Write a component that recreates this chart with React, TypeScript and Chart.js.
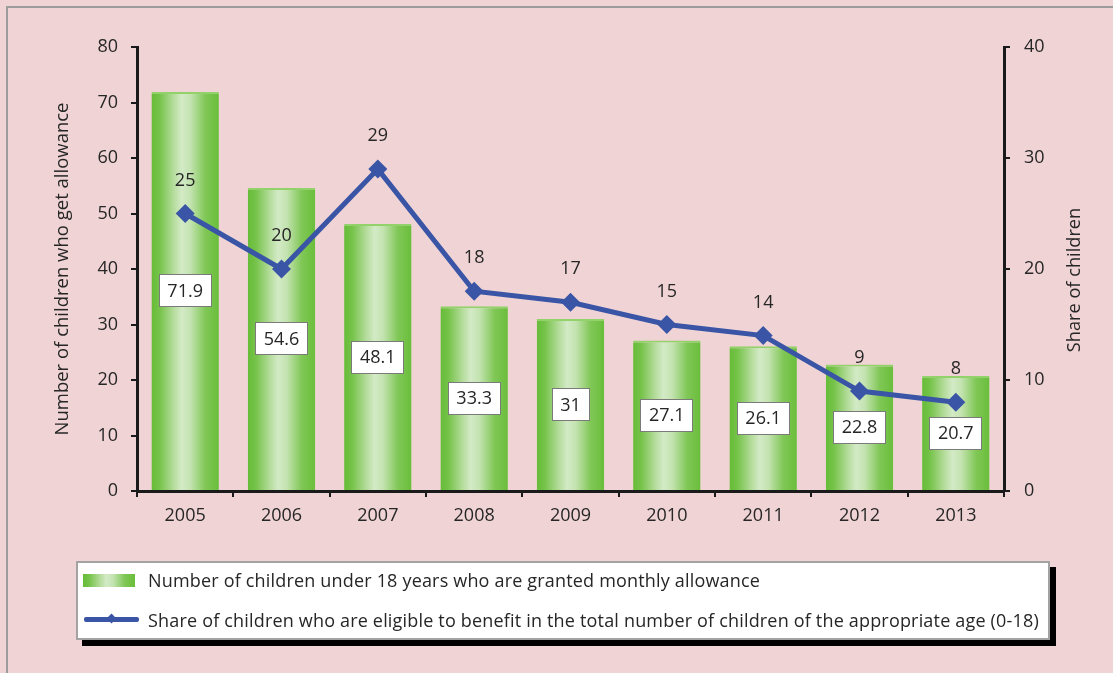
import React, { useEffect, useRef } from "react";
import { Chart, registerables } from "chart.js";

Chart.register(...registerables);

const categories = ["2005", "2006", "2007", "2008", "2009", "2010", "2011", "2012", "2013"];
const childrenCount = [71.9, 54.6, 48.1, 33.3, 31, 27.1, 26.1, 22.8, 20.7];
const shareOfChildren = [25, 20, 29, 18, 17, 15, 14, 9, 8];
const leftTicksMax = 80;
const rightTicksMax = 40;
const barLabel = "Number of children under 18 years who are granted monthly allowance";
const lineLabel = "Share of children who are eligible to benefit in the total number of children of the appropriate age (0-18)";
const leftTitle = "Number of children who get allowance";
const rightTitle = "Share of children";

const W = 1113;
const H = 673;
const BG = "rgb(240, 212, 213)";
const BLUE = "#3a55a5";
const TEXT = "#262626";
const FONT = '"Open Sans", "DejaVu Sans", sans-serif';

function addGreenStops(g: CanvasGradient) {
  g.addColorStop(0, "#66bc37");
  g.addColorStop(0.12, "#76c34a");
  g.addColorStop(0.32, "#b2db98");
  g.addColorStop(0.45, "#d3eac6");
  g.addColorStop(0.58, "#c3e3b0");
  g.addColorStop(0.8, "#80c756");
  g.addColorStop(1, "#6abe3b");
}

function barGradient(c: any) {
  const chart = c.chart;
  const xs = chart.scales && chart.scales.x;
  if (!xs || !chart.chartArea || c.type !== "data") return "#7cc450";
  const cx = xs.getPixelForValue(c.dataIndex);
  const w = (xs.width / categories.length) * 0.7;
  const g = chart.ctx.createLinearGradient(cx - w / 2, 0, cx + w / 2, 0);
  addGreenStops(g);
  return g;
}

const labelPlugin = {
  id: "valueLabels",
  afterDatasetsDraw(chart: any) {
    const ctx = chart.ctx;
    ctx.save();
    ctx.font = `18px ${FONT}`;
    ctx.textAlign = "center";
    ctx.textBaseline = "middle";
    const barMeta = chart.getDatasetMeta(0);
    barMeta.data.forEach((el: any, i: number) => {
      const p = el.getProps(["x", "y", "base"], true);
      const cy = (p.y + p.base) / 2;
      const text = String(childrenCount[i]);
      const w = Math.round(ctx.measureText(text).width + 17);
      const h = 33;
      const bx = Math.round(p.x - w / 2);
      const by = Math.round(cy - h / 2);
      ctx.fillStyle = "#ffffff";
      ctx.fillRect(bx, by, w, h);
      ctx.strokeStyle = "#7a7a7a";
      ctx.lineWidth = 1;
      ctx.strokeRect(bx + 0.5, by + 0.5, w - 1, h - 1);
      ctx.fillStyle = TEXT;
      ctx.fillText(text, p.x, cy + 1);
    });
    const lineMeta = chart.getDatasetMeta(1);
    lineMeta.data.forEach((el: any, i: number) => {
      ctx.fillStyle = TEXT;
      ctx.fillText(String(shareOfChildren[i]), el.x, el.y - 33);
    });
    ctx.restore();
  },
  afterDraw(chart: any) {
    const ctx = chart.ctx;
    ctx.save();
    ctx.font = `18.2px ${FONT}`;
    ctx.fillStyle = TEXT;
    ctx.textAlign = "center";
    ctx.textBaseline = "middle";
    ctx.translate(1075, 280);
    ctx.rotate(-Math.PI / 2);
    ctx.fillText(rightTitle, 0, 0);
    ctx.restore();
  },
};

export default function App() {
  const ref = useRef<HTMLCanvasElement | null>(null);
  const swatchRef = useRef<HTMLCanvasElement | null>(null);

  useEffect(() => {
    const sw = swatchRef.current;
    if (sw) {
      const sctx = sw.getContext("2d");
      if (sctx) {
        const g = sctx.createLinearGradient(0, 0, sw.width, 0);
        addGreenStops(g);
        sctx.fillStyle = g;
        sctx.fillRect(0, 0, sw.width, sw.height);
      }
    }
    if (!ref.current) return;
    const chart = new Chart(ref.current, {
      type: "bar",
      data: {
        labels: categories,
        datasets: [
          {
            type: "bar",
            label: barLabel,
            data: childrenCount,
            yAxisID: "y",
            backgroundColor: barGradient,
            borderColor: "#93d26a",
            borderWidth: { top: 2, left: 0, right: 0, bottom: 0 },
            borderSkipped: false,
            barPercentage: 0.7,
            categoryPercentage: 1,
            order: 2,
          },
          {
            type: "line",
            label: lineLabel,
            data: shareOfChildren,
            yAxisID: "y1",
            borderColor: BLUE,
            backgroundColor: BLUE,
            borderWidth: 5,
            pointStyle: "rectRot",
            pointRadius: 9.5,
            pointBorderWidth: 0,
            pointBackgroundColor: BLUE,
            tension: 0,
            order: 1,
          },
        ],
      } as any,
      options: {
        responsive: false,
        animation: false,
        devicePixelRatio: 1,
        layout: { padding: { top: 47, left: 0, right: 0, bottom: 0 } },
        plugins: {
          legend: { display: false },
          tooltip: { enabled: false },
        },
        scales: {
          x: {
            offset: true,
            grid: {
              offset: true,
              drawOnChartArea: false,
              drawTicks: true,
              tickLength: 6,
              color: "#1a1a1a",
              lineWidth: 2,
            },
            border: { display: true, color: "#1a1a1a", width: 3 },
            ticks: { font: { family: FONT, size: 18 }, color: TEXT, padding: 8 },
            afterFit(s: any) {
              s.height = H - 491;
            },
          },
          y: {
            position: "left",
            min: 0,
            max: leftTicksMax,
            ticks: { stepSize: 10, font: { family: FONT, size: 18 }, color: TEXT, padding: 13 },
            grid: {
              drawOnChartArea: false,
              drawTicks: true,
              tickLength: 6,
              color: "#1a1a1a",
              lineWidth: 2,
            },
            border: { display: true, color: "#1a1a1a", width: 3 },
            title: {
              display: true,
              text: leftTitle,
              color: TEXT,
              font: { family: FONT, size: 18.5 },
              padding: { top: 52, bottom: 0 },
            },
            afterFit(s: any) {
              s.width = 137;
            },
          },
          y1: {
            position: "right",
            min: 0,
            max: rightTicksMax,
            ticks: { stepSize: 10, font: { family: FONT, size: 18 }, color: TEXT, padding: 14 },
            grid: {
              drawOnChartArea: false,
              drawTicks: true,
              tickLength: 6,
              color: "#1a1a1a",
              lineWidth: 2,
            },
            border: { display: true, color: "#1a1a1a", width: 3 },
            afterFit(s: any) {
              s.width = W - 1004;
            },
          },
        },
      } as any,
      plugins: [labelPlugin],
    });
    return () => chart.destroy();
  }, []);

  return (
    <div
      style={{
        position: "fixed",
        left: 0,
        top: 0,
        width: W,
        height: H,
        background: BG,
        overflow: "hidden",
        fontFamily: FONT,
      }}
    >
      <div
        style={{
          position: "absolute",
          left: 6,
          top: 6,
          width: W + 20,
          height: H + 20,
          border: "2px solid #9c9c9c",
          boxSizing: "border-box",
        }}
      />
      <canvas ref={ref} width={W} height={H} style={{ position: "absolute", left: 0, top: 0, width: W, height: H }} />
      <div
        style={{
          position: "absolute",
          left: 76,
          top: 561,
          width: 974,
          height: 79,
          boxSizing: "border-box",
          border: "2px solid #a3a3a3",
          background: "#ffffff",
          boxShadow: "6px 6px 0 #000",
          color: TEXT,
          fontSize: 18,
          letterSpacing: "0.18px",
        }}
      >
        <canvas
          ref={swatchRef}
          width={52}
          height={13}
          style={{ position: "absolute", left: 5, top: 11, width: 52, height: 13 }}
        />
        <div style={{ position: "absolute", left: 70, top: 5, lineHeight: "24px", whiteSpace: "nowrap" }}>{barLabel}</div>
        <div style={{ position: "absolute", left: 6, top: 54, width: 55, height: 5, background: BLUE, borderRadius: 2 }} />
        <div
          style={{
            position: "absolute",
            left: 30,
            top: 52,
            width: 7,
            height: 7,
            background: BLUE,
            transform: "rotate(45deg)",
          }}
        />
        <div style={{ position: "absolute", left: 70, top: 45, lineHeight: "24px", whiteSpace: "nowrap" }}>{lineLabel}</div>
      </div>
    </div>
  );
}
